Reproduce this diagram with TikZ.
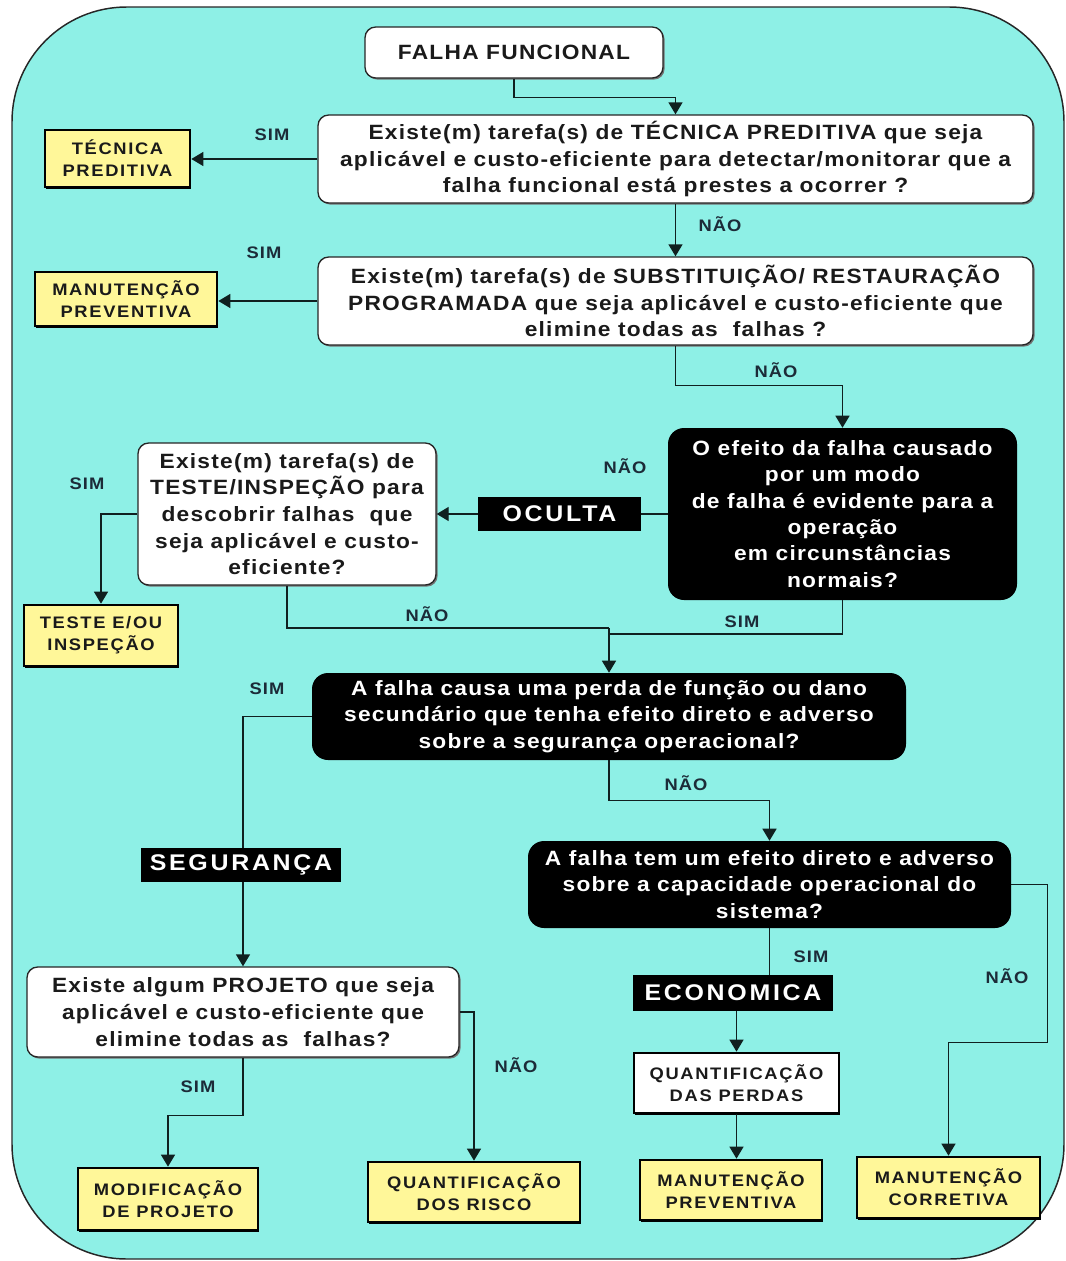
\documentclass[tikz,border=0pt]{standalone}
\usepackage{fontspec}
\usetikzlibrary{arrows.meta,shadows,calc}
\newfontfamily\mf[FakeStretch=1.1,LetterSpace=6]{Liberation Sans}
\newfontfamily\yf[FakeStretch=1.1,LetterSpace=10]{Liberation Sans}
\newfontfamily\wf[FakeStretch=1.1,LetterSpace=12]{Liberation Sans}
\definecolor{bgc}{HTML}{8EF0E6}
\definecolor{ylw}{HTML}{FFF799}
\definecolor{lbl}{HTML}{1C2B38}
\definecolor{txt}{HTML}{1A1A1A}
\definecolor{lnc}{HTML}{102020}
\begin{document}
\begin{tikzpicture}[x=0.75pt,y=-0.75pt,
 wh/.style 2 args={minimum width={#1*0.75pt}, minimum height={#2*0.75pt}},
 wbox/.style={draw=black!85, line width=1pt, fill=white, rounded corners=8pt, inner sep=0pt, align=center, text=txt,
   font=\mf\bfseries\fontsize{15.5}{20}\selectfont,
   drop shadow={shadow xshift=1.2pt,shadow yshift=-1.2pt,fill=black!55,opacity=1}},
 bbox/.style={fill=black, rounded corners=12pt, inner sep=0pt, align=center, text=white,
   font=\mf\bfseries\fontsize{15.5}{19.8}\selectfont},
 ybox/.style={draw=black, line width=2pt, fill=ylw, inner sep=0pt, align=center, text=txt,
   font=\yf\bfseries\fontsize{12.5}{16.5}\selectfont,
   drop shadow={shadow xshift=1pt,shadow yshift=-1.5pt,fill=black,opacity=1}},
 qbox/.style={draw=black, line width=2pt, fill=white, inner sep=0pt, align=center, text=txt,
   font=\yf\bfseries\fontsize{12.5}{16.5}\selectfont,
   drop shadow={shadow xshift=1pt,shadow yshift=-1.5pt,fill=black,opacity=1}},
 tag/.style={fill=black, inner sep=0pt, text=white, font=\wf\bfseries\fontsize{17}{20}\selectfont},
 lab/.style={text=lbl, font=\mf\bfseries\fontsize{12.5}{14}\selectfont, inner sep=0pt},
 arr/.style={draw=lnc, -{Triangle[length=9pt,width=10.5pt]}, line width=1pt},
 ln/.style={draw=lnc, line width=1pt}]
\useasboundingbox (0,0) rectangle (1066,1261);
\draw[fill=bgc, line width=1.1pt, draw=black!85, rounded corners=86pt] (12,7) rectangle (1064,1259);

% nodes
\node[wbox, wh={298}{51}] (ff) at (514,52.5) {FALHA FUNCIONAL};
\node[wbox, wh={715}{88}] (q1) at (675.5,159) {Existe(m) tarefa(s) de TÉCNICA PREDITIVA que seja\\aplicável e custo-eficiente para detectar/monitorar que a\\falha funcional está prestes a ocorrer ?};
\node[ybox, wh={145}{57}] (tp) at (117.5,158.5) {TÉCNICA\\PREDITIVA};
\node[wbox, wh={715}{88}] (q2) at (675.5,301) {Existe(m) tarefa(s) de SUBSTITUIÇÃO/ RESTAURAÇÃO\\PROGRAMADA que seja aplicável e custo-eficiente que\\elimine todas as\ \ falhas ?};
\node[ybox, wh={182}{54}] (mp) at (126,299) {MANUTENÇÃO\\PREVENTIVA};
\node[bbox, wh={349}{172}] (q3) at (842.5,514) {O efeito da falha causado\\por um modo\\de falha é evidente para a\\operação\\em circunstâncias\\normais?};
\node[tag, wh={163}{34}] (oc) at (559.5,514) {OCULTA};
\node[wbox, wh={298}{142}] (te) at (287,514) {Existe(m) tarefa(s) de\\TESTE/INSPEÇÃO para\\descobrir falhas\ \ que\\seja aplicável e custo-\\eficiente?};
\node[ybox, wh={154}{61}] (ti) at (101,635.5) {TESTE E/OU\\INSPEÇÃO};
\node[bbox, wh={594}{87}] (q4) at (609,716.5) {A falha causa uma perda de função ou dano\\secundário que tenha efeito direto e adverso\\sobre a segurança operacional?};
\node[bbox, wh={483}{87}] (q5) at (769.5,884.5) {A falha tem um efeito direto e adverso\\sobre a capacidade operacional do\\sistema?};
\node[tag, wh={200}{36}] (eco) at (733,993) {ECONOMICA};
\node[qbox, wh={205}{60}] (qp) at (736.5,1083) {QUANTIFICAÇÃO\\DAS PERDAS};
\node[ybox, wh={182}{60}] (mp2) at (731,1190) {MANUTENÇÃO\\PREVENTIVA};
\node[ybox, wh={183}{61}] (mc) at (948.5,1187.5) {MANUTENÇÃO\\CORRETIVA};
\node[wbox, wh={432}{90}] (pj) at (243,1012) {Existe algum PROJETO que seja\\aplicável e custo-eficiente que\\elimine todas as\ \ falhas?};
\node[ybox, wh={180}{62}] (md) at (168,1199) {MODIFICAÇÃO\\DE PROJETO};
\node[ybox, wh={212}{60}] (qr) at (474,1192) {QUANTIFICAÇÃO\\DOS RISCO};

\coordinate (j1) at (609,628);
\coordinate (j2) at (609,634);

% connectors
\draw[arr] (ff.south) -- ++(0,19) -| (q1.north);
\draw[arr] (q1.west) -- (q1.west -| tp.east);
\draw[arr] (q1.south) -- (q2.north);
\draw[arr] (q2.west) -- (q2.west -| mp.east);
\draw[arr] (q2.south) -- ++(0,40) -| (q3.north);
\draw[ln] (q3.west) -- (q3.west -| oc.east);
\draw[arr] (oc.west) -- (oc.west -| te.east);
\draw[arr] (te.west) -| (ti.north);
\draw[ln] (te.south) |- (j1);
\draw[ln] (q3.south) |- (j2);
\draw[arr] (j1) -- (q4.north);
\draw[arr] (q4.west) -| (pj.north);
\draw[arr] (q4.south) -- ++(0,40) -| (q5.north);
\draw[arr] (q5.east) -- ++(36,0) -- ++(0,158) -| (mc.north);
\draw[ln] (q5.south) -- (q5.south |- eco.north);
\draw[arr] (eco.south -| qp.north) -- (qp.north);
\draw[arr] (qp.south) -- (qp.south |- mp2.north);
\draw[arr] (pj.south) -- ++(0,58) -| (md.north);
\draw[arr] (pj.east) -- ++(13,0) -| (qr.north);

\node[tag, wh={200}{34}] (seg) at (241,865) {SEGURANÇA};

% labels
\node[lab] (l1) at (272,135) {SIM};
\node[lab] (l2) at (264,253) {SIM};
\node[lab] (l3) at (720,224) {NÃO};
\node[lab] (l4) at (776,370) {NÃO};
\node[lab] (l5) at (625,466) {NÃO};
\node[lab] (l6) at (87,484) {SIM};
\node[lab] (l7) at (427,614) {NÃO};
\node[lab] (l8) at (742,622) {SIM};
\node[lab] (l9) at (267,689) {SIM};
\node[lab] (l10) at (686,783) {NÃO};
\node[lab] (l11) at (811,957) {SIM};
\node[lab] (l12) at (1007,976) {NÃO};
\node[lab] (l13) at (198,1087) {SIM};
\node[lab] (l14) at (516,1065) {NÃO};
\end{tikzpicture}
\end{document}
